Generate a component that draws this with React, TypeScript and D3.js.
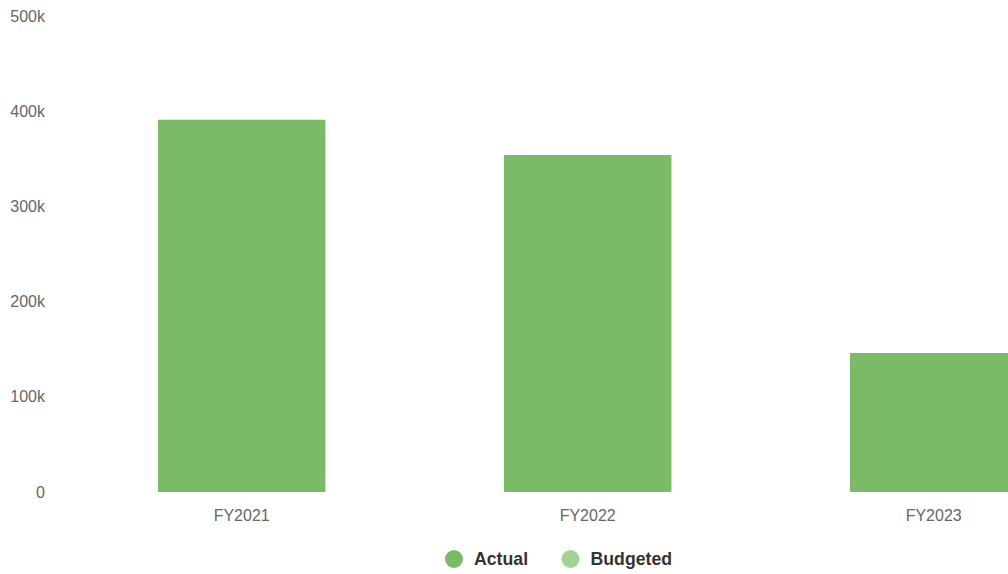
import React from "react";
import * as d3 from "d3";

const categories = ["FY2021", "FY2022", "FY2023"];
const actual = [391000, 354000, 146000];
const budgeted: (number | null)[] = [null, null, null];
const yTicks = [0, 100000, 200000, 300000, 400000, 500000];
const seriesNames = ["Actual", "Budgeted"];
const seriesColors = ["#7bbb68", "#a3d294"];

const W = 1008;
const H = 574;

export default function App() {
  const y = d3.scaleLinear().domain([0, 500000]).range([492, 16]);
  const x = d3
    .scaleBand<string>()
    .domain(categories)
    .range([68.7, 1106.7])
    .paddingInner(0.516)
    .paddingOuter(0.258);
  const fmt = (v: number) => (v === 0 ? "0" : `${v / 1000}k`);
  const font = "'Liberation Sans', Arial, Helvetica, sans-serif";
  const legendX = [454, 570.5];
  return (
    <svg
      width={W}
      height={H}
      style={{ position: "absolute", left: 0, top: 0, fontFamily: font }}
    >
      <rect x={0} y={0} width={W} height={H} fill="#fff" />
      {yTicks.map((t) => (
        <text
          key={t}
          x={45}
          y={y(t)}
          dy="0.35em"
          textAnchor="end"
          fontSize={16}
          fill="#666"
        >
          {fmt(t)}
        </text>
      ))}
      {categories.map((c, i) => (
        <g key={c}>
          <rect
            x={x(c)!}
            y={y(actual[i])}
            width={x.bandwidth()}
            height={y(0) - y(actual[i])}
            fill={seriesColors[0]}
          />
          {budgeted[i] != null && (
            <rect
              x={x(c)!}
              y={y(budgeted[i] as number)}
              width={x.bandwidth()}
              height={y(0) - y(budgeted[i] as number)}
              fill={seriesColors[1]}
            />
          )}
          <text
            x={x(c)! + x.bandwidth() / 2}
            y={515}
            dy="0.35em"
            textAnchor="middle"
            fontSize={16}
            fill="#666"
          >
            {c}
          </text>
        </g>
      ))}
      {seriesNames.map((s, i) => (
        <g key={s}>
          <circle cx={legendX[i]} cy={559} r={9} fill={seriesColors[i]} />
          <text
            x={legendX[i] + 20}
            y={559}
            dy="0.35em"
            fontSize={17.7}
            fontWeight="bold"
            fill="#333"
          >
            {s}
          </text>
        </g>
      ))}
    </svg>
  );
}
